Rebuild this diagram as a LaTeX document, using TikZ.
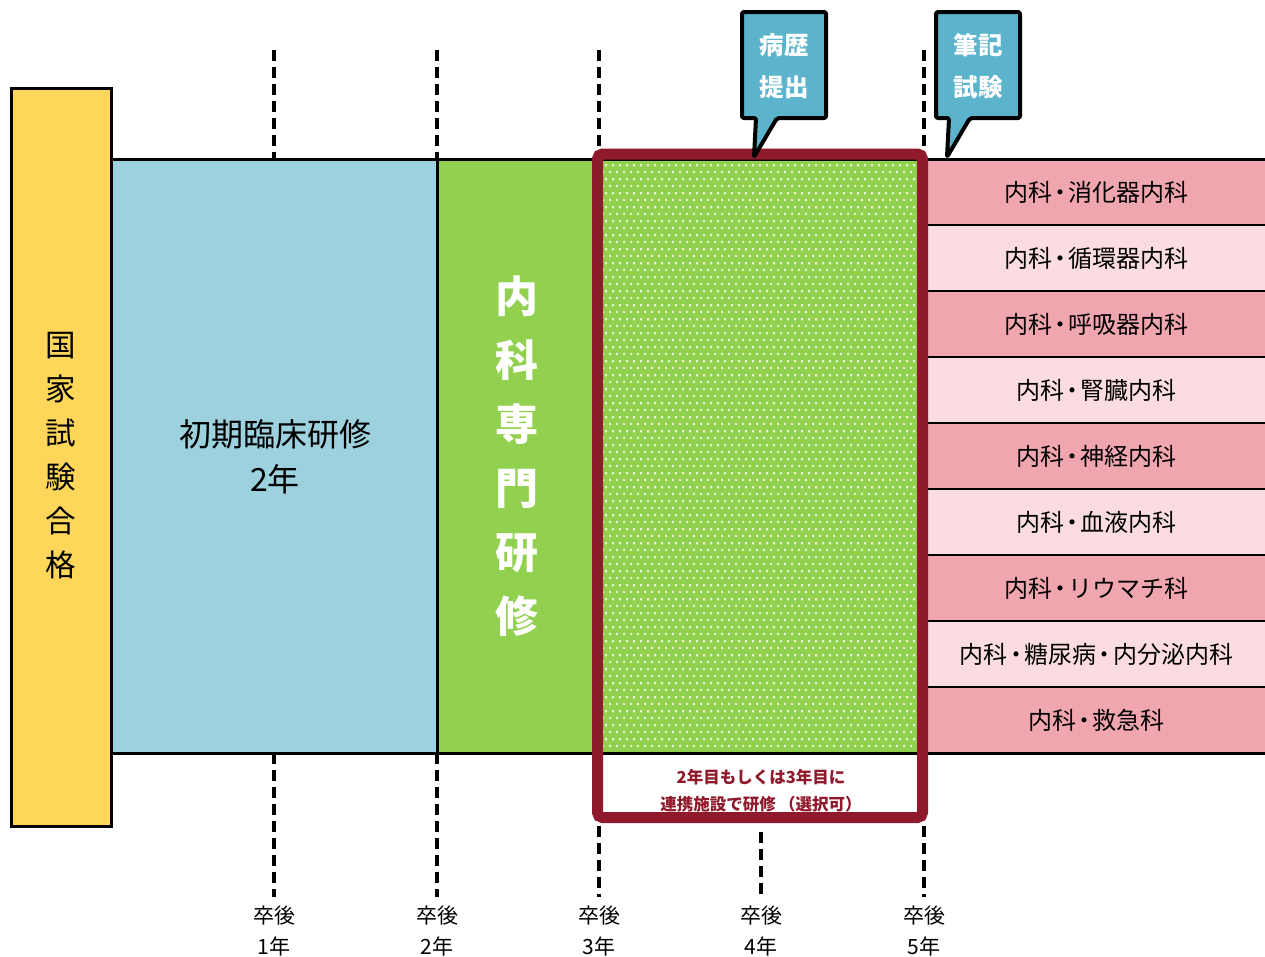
\documentclass[tikz,border=0pt]{standalone}
\usepackage{fontspec}
\setmainfont{Noto Sans CJK JP}
\usetikzlibrary{patterns}
\definecolor{yellowc}{HTML}{FDD65A}
\definecolor{bluec}{HTML}{9DD1DE}
\definecolor{greenc}{HTML}{92D050}
\definecolor{dotc}{HTML}{E6F5D6}
\definecolor{pinkd}{HTML}{EFA6AF}
\definecolor{pinkl}{HTML}{FADCE1}
\definecolor{redc}{HTML}{8E1A2C}
\definecolor{calloutc}{HTML}{5BB4CC}
\newcommand\kdot{\hspace{-.15em}・\hspace{-.15em}}
\pgfdeclarepatternformonly{whitedots}{\pgfqpoint{0pt}{0pt}}{\pgfqpoint{7pt}{14pt}}{\pgfqpoint{7pt}{14pt}}{%
  \pgfpathrectangle{\pgfqpoint{0pt}{0pt}}{\pgfqpoint{2.4pt}{2.4pt}}%
  \pgfpathrectangle{\pgfqpoint{3.5pt}{7pt}}{\pgfqpoint{2.4pt}{2.4pt}}%
  \pgfusepath{fill}}
\begin{document}
\begin{tikzpicture}[x=1pt,y=-1pt,
  box/.style={draw=black, line width=3pt, inner sep=0pt, outer sep=0pt, anchor=north west},
  tick/.style={draw=black, line width=3.5pt, dash pattern=on 11pt off 6pt},
  rowbox/.style={minimum width=337, minimum height=66, inner sep=0pt, outer sep=0pt, anchor=north west, font=\fontsize{24}{24}\selectfont},
  sep/.style={draw=black, line width=2pt},
  callout/.style={fill=calloutc, draw=black, line width=4pt, line join=round, rounded corners=2pt},
  ctext/.style={text=white, font=\bfseries\fontsize{24.5}{42}\selectfont, align=center, inner sep=0pt},
  yeartext/.style={font=\fontsize{21}{31}\selectfont, align=center, inner sep=0pt}]
\useasboundingbox (0,0) rectangle (1265,956);
\fill[white] (0,0) rectangle (1265,956);
% tick coordinates
\coordinate (t1-top) at (274,50); \coordinate (t2-top) at (437,50);
\coordinate (t3-top) at (599,50); \coordinate (t5-top) at (924,50);
\coordinate (t1-a) at (274,159); \coordinate (t2-a) at (437,159);
\coordinate (t3-a) at (599,150); \coordinate (t5-a) at (924,150);
\coordinate (t1-b) at (274,753); \coordinate (t2-b) at (437,753);
\coordinate (t3-b) at (599,826); \coordinate (t4-b) at (761,832); \coordinate (t5-b) at (924,826);
\coordinate (t1-bot) at (274,897); \coordinate (t2-bot) at (437,897);
\coordinate (t3-bot) at (599,897); \coordinate (t4-bot) at (761,897); \coordinate (t5-bot) at (924,897);
\draw[tick] (t1-top) -- (t1-a);
\draw[tick] (t2-top) -- (t2-a);
\draw[tick] (t3-top) -- (t3-a);
\draw[tick] (t5-top) -- (t5-a);
\draw[tick] (t1-b) -- (t1-bot);
\draw[tick] (t2-b) -- (t2-bot);
\draw[tick] (t3-b) -- (t3-bot);
\draw[tick] (t4-b) -- (t4-bot);
\draw[tick] (t5-b) -- (t5-bot);
% boxes
\node[box, fill=yellowc, minimum width=100, minimum height=738] (exam) at (11,88) {};
\node[box, fill=bluec, minimum width=326, minimum height=594] (init) at (111,159) {};
\node[box, fill=greenc, minimum width=161, minimum height=594] (spec) at (437,159) {};
\node[inner sep=0pt, outer sep=0pt, fill=greenc, minimum width=326, minimum height=594, anchor=north west] (dots) at (598,159) {};
\fill[pattern=whitedots, pattern color=dotc] (dots.north west) rectangle (dots.south east);
% pink rows
\node[rowbox, fill=pinkd] (r1) at (928,159) {内科\kdot 消化器内科};
\node[rowbox, fill=pinkl] (r2) at (928,225) {内科\kdot 循環器内科};
\node[rowbox, fill=pinkd] (r3) at (928,291) {内科\kdot 呼吸器内科};
\node[rowbox, fill=pinkl] (r4) at (928,357) {内科\kdot 腎臓内科};
\node[rowbox, fill=pinkd] (r5) at (928,423) {内科\kdot 神経内科};
\node[rowbox, fill=pinkl] (r6) at (928,489) {内科\kdot 血液内科};
\node[rowbox, fill=pinkd] (r7) at (928,555) {内科\kdot リウマチ科};
\node[rowbox, fill=pinkl] (r8) at (928,621) {内科\kdot 糖尿病\kdot 内分泌内科};
\node[rowbox, fill=pinkd] (r9) at (928,687) {内科\kdot 救急科};
\foreach \i in {1,...,8}{ \draw[sep] (r\i.south west) -- (r\i.south east); }
% top and bottom lines
\draw[line width=3pt] (init.north west) -- (r1.north east);
\draw[line width=3pt] (init.south west) -- (r9.south east);
% texts
\node[font=\fontsize{30.5}{44}\selectfont, align=center, inner sep=0pt] (examt) at (61,456) {国\\家\\試\\験\\合\\格};
\node[font=\fontsize{32}{45}\selectfont, align=center, inner sep=0pt] (initt) at (275,457) {初期臨床研修\\2年};
\node[text=white, font=\bfseries\fontsize{43}{64}\selectfont, align=center, inner sep=0pt] (spect) at (517,456) {内\\科\\専\\門\\研\\修};
\node[text=redc, font=\bfseries\fontsize{16.5}{27}\selectfont, align=center, inner sep=0pt] (note) at (761,791) {2年目もしくは3年目に\\連携施設で研修\hspace{.2em}（選択可）};
% red frame
\draw[redc, line width=11pt, rounded corners=5pt] (597.5,154) rectangle (922.5,817.5);
% callouts
\draw[callout] (742,12) -- (826,12) -- (826,118) -- (777,118) -- (754,157) -- (756,118) -- (742,118) -- cycle;
\node[ctext] (c1) at (784,66) {病歴\\提出};
\draw[callout] (936,12) -- (1020,12) -- (1020,118) -- (970,118) -- (947,157) -- (949,118) -- (936,118) -- cycle;
\node[ctext] (c2) at (978,66) {筆記\\試験};
% year labels
\node[yeartext] (y1) at (274,931) {卒後\\1年};
\node[yeartext] (y2) at (437,931) {卒後\\2年};
\node[yeartext] (y3) at (599,931) {卒後\\3年};
\node[yeartext] (y4) at (761,931) {卒後\\4年};
\node[yeartext] (y5) at (924,931) {卒後\\5年};
\end{tikzpicture}
\end{document}
